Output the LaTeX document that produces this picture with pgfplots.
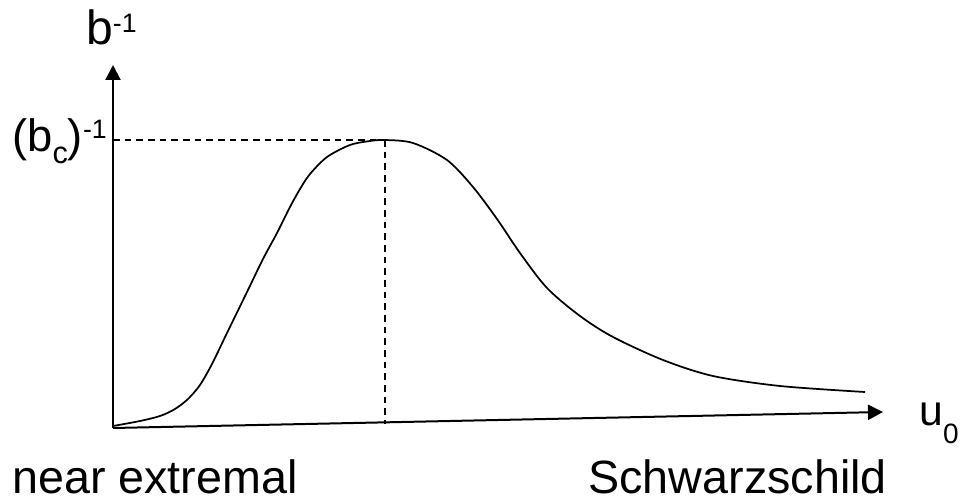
\documentclass[border=0pt]{standalone}
\usepackage{pgfplots}
\pgfplotsset{compat=1.18}
\usetikzlibrary{arrows.meta}
\usepackage{fontspec}
\setmainfont{Liberation Sans}
\newcommand{\sz}[1]{\fontsize{#1}{#1}\selectfont}
\begin{document}
\begin{tikzpicture}
\begin{axis}[
  x=0.75pt, y=0.75pt,
  xmin=0, xmax=962, ymin=0, ymax=503,
  hide axis, clip=false,
]
\path (axis cs:0,0) rectangle (axis cs:962,503);
% axes
\draw[line width=1.5pt, -{Triangle[width=11.25pt,length=11.25pt]}] (axis cs:113,75) -- (axis cs:113,438);
\draw[line width=1.5pt, -{Triangle[width=11.25pt,length=11.25pt]}] (axis cs:113,75) -- (axis cs:883,91);
% dashed guides
\draw[line width=1.1pt, dash pattern=on 5pt off 3.75pt] (axis cs:113,363) -- (axis cs:385,363);
\draw[line width=1.1pt, dash pattern=on 5pt off 3.75pt] (axis cs:385,363) -- (axis cs:385,79);
% curve
\addplot[line width=1.3pt, black, smooth] coordinates {
(113,77) (140,82) (160,87) (175,94) (188,104) (200,118) (212,139) (227,170)
(247,211) (263,244) (277,270) (290,296) (300,314) (310,329) (327,346)
(350,358) (370,362) (385,363)
(413,360) (447,343) (473,316) (497,284) (520,250) (547,215) (580,187)
(613,166) (663,143) (713,127) (780,117) (865,111)
};
% labels
\node[anchor=base west, inner sep=0pt] at (axis cs:86,458) {\sz{36pt}b\raisebox{9pt}{\sz{20pt}-1}};
\node[anchor=base west, inner sep=0pt] at (axis cs:12,351) {\sz{34pt}(b\raisebox{-9pt}{\sz{23pt}c})\raisebox{10pt}{\sz{20pt}-1}};
\node[anchor=base west, inner sep=0pt] at (axis cs:919,78) {\sz{32pt}u\raisebox{-13.5pt}{\sz{21pt}0}};
\node[anchor=base west, inner sep=0pt] at (axis cs:12,10) {\sz{35pt}near extremal};
\node[anchor=base east, inner sep=0pt] at (axis cs:887,10) {\sz{35pt}Schwarzschild};
\end{axis}
\end{tikzpicture}
\end{document}
